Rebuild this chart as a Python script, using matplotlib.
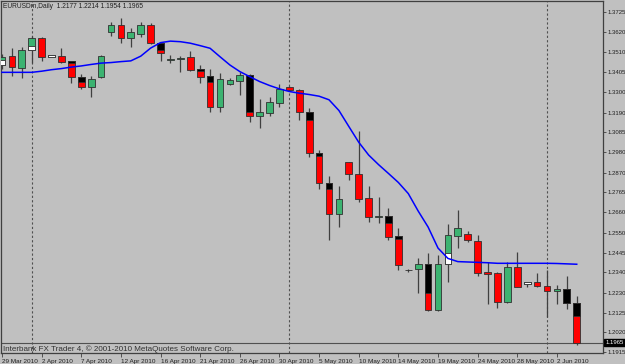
import matplotlib
matplotlib.use('Agg')
import matplotlib.pyplot as plt
import numpy as np

plt.rcParams['font.family'] = ['Liberation Sans', 'DejaVu Sans']

# EURUSDm daily bars, 29 Mar 2010 - 4 Jun 2010 (Sunday bars included)
opens = [1.3443, 1.3491, 1.3429, 1.3523, 1.3585, 1.3486, 1.3493, 1.3464, 1.3381, 1.3324,
         1.3378, 1.3620, 1.3656, 1.3585, 1.3610, 1.3656, 1.3562, 1.3472, 1.3475, 1.3484,
         1.3420, 1.3385, 1.3218, 1.3340, 1.3360, 1.3390, 1.3173, 1.3188, 1.3242, 1.3324,
         1.3310, 1.3195, 1.2976, 1.2817, 1.2650, 1.2925, 1.2863, 1.2737, 1.2637, 1.2640,
         1.2533, 1.2350, 1.2358, 1.2383, 1.2140, 1.2383, 1.2533, 1.2544, 1.2508, 1.2343,
         1.2335, 1.2181, 1.2367, 1.2278, 1.2290, 1.2269, 1.2242, 1.2250, 1.2177]
highs = [1.3502, 1.3535, 1.3540, 1.3597, 1.3590, 1.3496, 1.3535, 1.3466, 1.3395, 1.3385,
         1.3496, 1.3673, 1.3691, 1.3638, 1.3673, 1.3665, 1.3567, 1.3496, 1.3491, 1.3517,
         1.3443, 1.3420, 1.3399, 1.3372, 1.3407, 1.3395, 1.3262, 1.3274, 1.3342, 1.3331,
         1.3314, 1.3213, 1.2991, 1.2854, 1.2799, 1.2927, 1.3094, 1.2799, 1.2739, 1.2681,
         1.2574, 1.2358, 1.2415, 1.2444, 1.2432, 1.2597, 1.2672, 1.2561, 1.2539, 1.2397,
         1.2343, 1.2393, 1.2450, 1.2291, 1.2335, 1.2352, 1.2273, 1.2322, 1.2214]
lows = [1.3422, 1.3385, 1.3375, 1.3452, 1.3466, 1.3483, 1.3452, 1.3346, 1.3314, 1.3274,
        1.3372, 1.3597, 1.3562, 1.3537, 1.3592, 1.3555, 1.3464, 1.3452, 1.3407, 1.3411,
        1.3349, 1.3195, 1.3195, 1.3337, 1.3283, 1.3138, 1.3106, 1.3172, 1.3218, 1.3305,
        1.3150, 1.2955, 1.2782, 1.2512, 1.2580, 1.2831, 1.2716, 1.2609, 1.2601, 1.2512,
        1.2352, 1.2344, 1.2228, 1.2135, 1.2135, 1.2290, 1.2468, 1.2503, 1.2321, 1.2172,
        1.2149, 1.2178, 1.2264, 1.2260, 1.2260, 1.2104, 1.2172, 1.2145, 1.1954]
closes = [1.3487, 1.3431, 1.3523, 1.3585, 1.3487, 1.3494, 1.3461, 1.3378, 1.3324, 1.3369,
          1.3491, 1.3656, 1.3585, 1.3617, 1.3656, 1.3558, 1.3505, 1.3475, 1.3480, 1.3416,
          1.3381, 1.3218, 1.3369, 1.3363, 1.3390, 1.3173, 1.3193, 1.3248, 1.3314, 1.3310,
          1.3193, 1.2973, 1.2814, 1.2650, 1.2729, 1.2863, 1.2730, 1.2636, 1.2640, 1.2530,
          1.2379, 1.2352, 1.2383, 1.2140, 1.2383, 1.2539, 1.2574, 1.2512, 1.2335, 1.2330,
          1.2181, 1.2367, 1.2264, 1.2290, 1.2269, 1.2242, 1.2250, 1.2178, 1.1965]
# level where the black (down) / white (up) overlay ends, nan = none
splits = [1.3470, np.nan, np.nan, 1.3544, np.nan, 1.3494, np.nan, 1.3455, 1.3351, np.nan,
          np.nan, np.nan, np.nan, np.nan, np.nan, np.nan, 1.3523, np.nan, np.nan, np.nan,
          1.3411, 1.3354, np.nan, np.nan, np.nan, 1.3195, np.nan, np.nan, np.nan, np.nan,
          np.nan, 1.3150, 1.2961, 1.2783, np.nan, np.nan, np.nan, np.nan, np.nan, 1.2604,
          1.2516, np.nan, np.nan, 1.2232, np.nan, 1.2441, np.nan, np.nan, np.nan, np.nan,
          np.nan, np.nan, np.nan, 1.2290, np.nan, np.nan, np.nan, 1.2178, 1.2108]
ma = [1.3404, 1.3404, 1.3404, 1.3404, 1.3410, 1.3418, 1.3424, 1.3432, 1.3438, 1.3446,
      1.3453, 1.3456, 1.3461, 1.3465, 1.3490, 1.3533, 1.3562, 1.3570, 1.3567, 1.3559,
      1.3546, 1.3532, 1.3487, 1.3443, 1.3408, 1.3381, 1.3355, 1.3334, 1.3316, 1.3302,
      1.3293, 1.3286, 1.3277, 1.3258, 1.3201, 1.3116, 1.3032, 1.2964, 1.2913, 1.2866,
      1.2818, 1.2759, 1.2666, 1.2581, 1.2469, 1.2414, 1.2397, 1.2395, 1.2393, 1.2391,
      1.2388, 1.2388, 1.2388, 1.2388, 1.2388, 1.2388, 1.2387, 1.2385, 1.2383]

date_labels = ['29 Mar 2010', '2 Apr 2010', '7 Apr 2010', '12 Apr 2010', '16 Apr 2010',
               '21 Apr 2010', '26 Apr 2010', '30 Apr 2010', '5 May 2010', '10 May 2010',
               '14 May 2010', '19 May 2010', '24 May 2010', '28 May 2010', '2 Jun 2010']
date_bars = [0, 4, 8, 12, 16, 20, 24, 28, 32, 36, 40, 44, 48, 52, 56]
month_bars = [3, 29, 55]
price_ticks = [1.3725, 1.3620, 1.3510, 1.3405, 1.3300, 1.3190, 1.3085, 1.2980, 1.2870,
               1.2765, 1.2660, 1.2550, 1.2445, 1.2340, 1.2230, 1.2125, 1.2020, 1.1915]
bid = closes[-1]

bg = '#C0C0C0'
dark = '#404040'
fig = plt.figure(figsize=(6.25, 3.64), dpi=100, facecolor=bg)
ax = fig.add_axes([1 / 625, 1 - 353 / 364, 602 / 625, 352 / 364])
ax.set_facecolor(bg)

x = np.arange(len(opens))
o = np.array(opens)
c = np.array(closes)
s = np.array(splits)
up = c >= o

# month separators
for b in month_bars:
    ax.axvline(b, color='#505050', lw=0.8, ls=(0, (2, 2)), zorder=1)

# bid line
ax.axhline(bid, color='#505050', lw=0.8, zorder=1)

ax.vlines(x, lows, highs, color=dark, lw=0.9, zorder=2)

lo = np.minimum(o, c)
hi = np.maximum(o, c)
body_col = np.where(up, '#3CB371', '#FF0000')
ax.bar(x, hi - lo, bottom=lo, width=0.68, color=body_col, edgecolor='#303030',
       linewidth=0.6, zorder=3)

# overlays: black from open down for bear bars, white from open up for bull bars
for i in range(len(x)):
    if np.isnan(s[i]):
        continue
    a, b = sorted([o[i], s[i]])
    col = 'white' if up[i] else 'black'
    ax.bar(x[i], b - a, bottom=a, width=0.68, color=col, edgecolor='#303030',
           linewidth=0.6, zorder=4)

ax.plot(x, ma, color='#0000FF', lw=1.1, zorder=5)

ax.set_xlim(-0.1, 60.65)
ax.set_ylim(1.19108, 1.37835)

ax.yaxis.tick_right()
ax.set_yticks(price_ticks)
ax.set_yticklabels([f'{v:.4f}' for v in price_ticks])
ax.tick_params(axis='y', length=2.5, width=0.6, color=dark, labelsize=4.3,
               pad=0.8, labelcolor='#202020')
ax.set_xticks(date_bars)
ax.set_xticklabels(date_labels)
ax.tick_params(axis='x', length=3, width=0.6, color=dark, labelsize=4.6,
               pad=1.0, labelcolor='#202020')
for lab in ax.get_xticklabels():
    lab.set_ha('left')

for sp in ax.spines.values():
    sp.set_color(dark)
    sp.set_linewidth(0.9)

ax.text(1.004, bid, f'{bid:.4f}', transform=ax.get_yaxis_transform(), ha='left',
        va='center', color='white', fontsize=4.3,
        bbox=dict(facecolor='black', edgecolor='black', pad=0.8), zorder=10,
        clip_on=False)

fig.text(3 / 625, 1 - 6 / 364,
         f'EURUSDm,Daily  {opens[-1]:.4f} {highs[-1]:.4f} {lows[-1]:.4f} {closes[-1]:.4f}',
         fontsize=4.8, color='#202020', va='center', ha='left')
fig.text(3 / 625, 1 - 349 / 364,
         'Interbank FX Trader 4, \u00a9 2001-2010 MetaQuotes Software Corp.',
         fontsize=5.8, color='#303030', va='center', ha='left')

fig.savefig('out.png', dpi=100, facecolor=bg)
